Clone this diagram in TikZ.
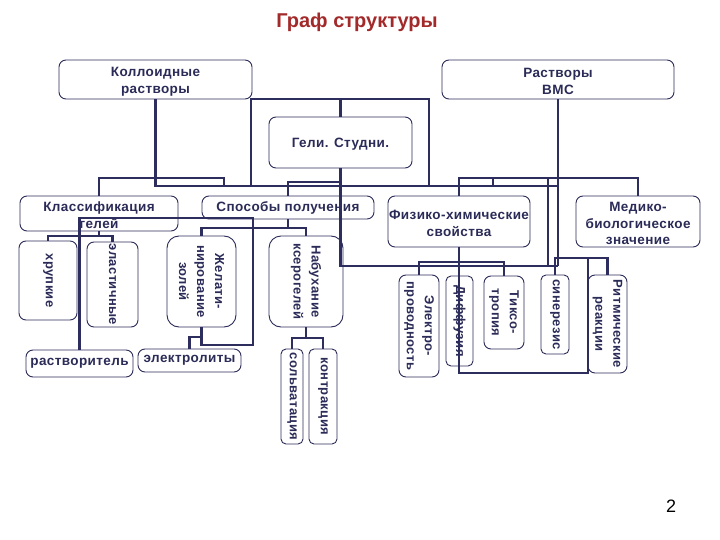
\documentclass[tikz,border=0pt]{standalone}
\usepackage{fontspec}
\setmainfont{Liberation Sans}[LetterSpace=3]
\newfontfamily\ttlfont{Liberation Sans}
\definecolor{ln}{HTML}{2E2E5E}
\definecolor{tx}{HTML}{2B2B58}
\definecolor{ttl}{HTML}{A32A2A}
\tikzset{
  box/.style={draw=tx, line width=0.9pt, rounded corners=7pt, fill=white, inner sep=0pt,
    align=center, font=\bfseries\fontsize{13.5}{17}\selectfont, text=tx},
  btext/.style={align=center, font=\bfseries\fontsize{13.5}{17}\selectfont, text=tx, inner sep=0pt},
  vtext/.style={rotate=-90, align=center, font=\bfseries\fontsize{13}{18}\selectfont, text=tx, inner sep=0pt},
  wire/.style={draw=ln, line width=2.6pt},
}
\begin{document}
\begin{tikzpicture}[x=1pt,y=-1pt]
\useasboundingbox (0,0) rectangle (720,540);
\fill[white] (0,0) rectangle (720,540);
\node[font=\ttlfont\bfseries\fontsize{20}{24}\selectfont, text=ttl] (title) at (357,22) {Граф структуры};
\node[font=\ttlfont\fontsize{18}{20}\selectfont] (pnum) at (671,506) {2};

% level y coordinates
\coordinate (y178) at (0,178);
\coordinate (y182) at (0,182);
\coordinate (y186) at (0,186);
\coordinate (y99) at (0,99);
\coordinate (y228) at (0,228);
\coordinate (y236) at (0,236);
\coordinate (y218) at (0,218);
\coordinate (y258) at (0,258);
\coordinate (y262) at (0,262);
\coordinate (y266) at (0,266);
\coordinate (y337) at (0,337);
\coordinate (y338) at (0,338);
\coordinate (y345) at (0,345);
\coordinate (y373) at (0,373);

% top boxes
\node[box, minimum width=193pt, minimum height=39pt] (kol) at (155.5,79.5) {};
\node[btext] at (155.5,81.5) {Коллоидные\\растворы};
\node[box, minimum width=232pt, minimum height=39pt] (vms) at (558,79.5) {};
\node[btext] at (558,81.5) {Растворы\\ВМС};
\node[box, minimum width=143pt, minimum height=51pt] (geli) at (340.5,142.5) {};
\node[btext] at (340.5,144.5) {Гели. Студни.};
\node[box, minimum width=158pt, minimum height=35pt] (klass) at (99,213.5) {};
\node[btext] at (99,215) {Классификация\\гелей};
\node[box, minimum width=172pt, minimum height=23pt] (sposob) at (288,207.5) {Способы получения};
\node[box, minimum width=142pt, minimum height=51pt] (fiz) at (459,221.5) {};
\node[btext] at (459,223.5) {Физико-химические\\свойства};
\node[box, minimum width=124pt, minimum height=51pt] (med) at (638,221.5) {};
\node[btext, font=\bfseries\fontsize{13.5}{16.5}\selectfont] at (638,223.5) {Медико-\\биологическое\\значение};

% lower boxes
\node[box, minimum width=58pt, minimum height=79pt] (hrup) at (48,280.5) {};
\node[vtext] at (hrup) {хрупкие};
\node[box, minimum width=51pt, minimum height=85pt] (elast) at (112.5,284.5) {};
\node[vtext] at (elast) {эластичные};
\node[box, minimum width=69pt, minimum height=91pt, rounded corners=12pt] (zhel) at (201.5,281.5) {};
\node[vtext] at (zhel) {Желати-\\нирование\\золей};
\node[box, minimum width=74pt, minimum height=91pt, rounded corners=12pt] (nab) at (306,281.5) {};
\node[vtext] at (nab) {Набухание\\ксерогелей};
\node[box, minimum width=107pt, minimum height=27pt] (rastv) at (79.5,363.5) {растворитель};
\node[box, minimum width=103pt, minimum height=23pt] (elekt) at (189.5,360.5) {электролиты};
\node[box, minimum width=22pt, minimum height=95pt, rounded corners=5pt] (solv) at (292,396.5) {};
\node[vtext] at (solv) {сольватация};
\node[box, minimum width=28pt, minimum height=95pt, rounded corners=5pt] (kontr) at (323,396.5) {};
\node[vtext] at (kontr) {контракция};
\node[box, minimum width=40pt, minimum height=102pt] (elpr) at (419,326) {};
\node[vtext] at (elpr) {Электро-\\проводность};
\node[box, minimum width=27pt, minimum height=90pt, rounded corners=5pt] (diff) at (459.5,321) {};
\node[vtext] at (diff) {Диффузия};
\node[box, minimum width=40pt, minimum height=73pt] (tiks) at (504,312.5) {};
\node[vtext] at (tiks) {Тиксо-\\тропия};
\node[box, minimum width=28pt, minimum height=79pt, rounded corners=5pt] (siner) at (555,314.5) {};
\node[vtext] at (siner) {синерезис};
\node[box, minimum width=39pt, minimum height=98pt] (ritm) at (607.5,324) {};
\node[vtext] at (ritm) {Ритмические\\реакции};

% junction coordinates
\coordinate (rA) at (251,99);
\coordinate (rB) at (429,99);
\coordinate (j224) at (224,178);
\coordinate (j493) at (493,178);
\coordinate (j548) at (548,178);
\coordinate (j253) at (253,218);
\coordinate (j588) at (588,258);

% wires: top level
\draw[wire] (kol.south) -- (kol.south |- y186) -- (vms.south |- y186);
\draw[wire] (vms.south) -- (vms.south |- y266);
\draw[wire] (rA |- y186) -- (rA) -- (rB) -- (rB |- y186);
\draw[wire] (geli.north) -- (geli.north |- y99);
\draw[wire] (geli.south) -- (geli.south |- y266) -- (vms.south |- y266);
\draw[wire] (j548) -- (j548 |- y266);
\draw[wire] (sposob.north) |- (geli.south |- y182);
\draw[wire] (klass.north) |- (j224) -- (j224 |- y186);
\draw[wire] (fiz.north) |- (med.north |- y178) -- (med.north);
\draw[wire] (j493) -- (j493 |- y186);

% wires: lower left
\draw[wire] (klass.south) -- (klass.south |- y236);
\draw[wire] (hrup.north) |- (elast.north |- y236) -- (elast.north);
\draw[wire] (sposob.south) -- (sposob.south |- y228);
\draw[wire] (zhel.north) |- (nab.north |- y228) -- (nab.north);
\draw[wire] (rastv.north) |- (j253) -- (j253 |- y345) -- (zhel.south |- y345) -- (zhel.south);
\draw[wire] (elekt.north) |- (zhel.south |- y337);
\draw[wire] (nab.south) -- (nab.south |- y338);
\draw[wire] (solv.north) |- (kontr.north |- y338) -- (kontr.north);

% wires: lower right
\draw[wire] (elpr.north) |- (tiks.north |- y262) -- (tiks.north);
\draw[wire] (fiz.south) -- (fiz.south |- y373) -- (j588 |- y373) -- (j588);
\draw[wire] (siner.north) |- (ritm.north |- y258) -- (ritm.north);
\end{tikzpicture}
\end{document}
